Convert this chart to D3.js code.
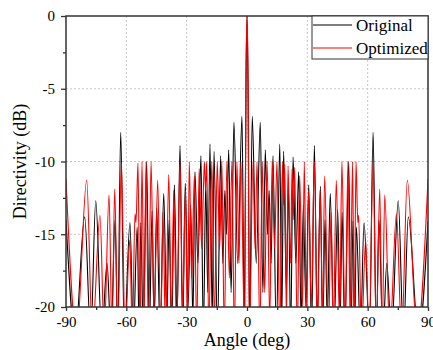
<!DOCTYPE html>
<html>
<head>
<meta charset="utf-8">
<script src="https://cdn.jsdelivr.net/npm/d3@7"></script>
<style>
  body { margin: 0; background: #fff; }
  svg text { font-family: "Liberation Serif", serif !important; fill: #000; }
</style>
</head>
<body>
<div id="container"></div>
<script>
/* DATA (lobe peaks and nulls, dB) */
const origAngle = [-90, -85.4, -80.7, -77.7, -75.2, -72.2, -69.6, -67.6, -65.6, -64.3, -62.8, -61.0, -58.2, -56.5, -54.6, -53.6, -52.8, -51.6, -49.9, -48.6, -47.2, -46.2, -44.9, -43.2, -41.4, -39.9, -38.7, -37.5, -36.1, -34.8, -33.3, -32.0, -30.7, -29.3, -28.0, -26.9, -25.9, -24.4, -22.9, -21.7, -20.5, -19.5, -18.4, -17.3, -16.4, -14.7, -13.1, -12.0, -11.0, -10.2, -9.1, -7.9, -6.5, -4.6, -2.5, -1.3, -0.5, 0,
  0.5, 1.3, 2.6, 4.6, 6.6, 7.9, 9.1, 10.2, 11.0, 12.0, 12.9, 14.6, 16.3, 17.3, 18.2, 19.6, 20.6, 21.7, 22.9, 24.3, 25.7, 26.9, 28.0, 29.3, 30.7, 32.1, 33.5, 34.9, 36.5, 37.6, 38.8, 39.9, 41.4, 43.2, 45.1, 46.3, 47.3, 48.6, 50.6, 51.7, 52.7, 53.5, 54.4, 56.4, 58.2, 60.9, 62.7, 64.3, 65.6, 67.6, 69.5, 71.8, 75.2, 77.8, 80.2, 85.3, 90];
const origDb = [-14.0, -22, -13.8, -22, -12.7, -22, -17, -22, -14.0, -22, -8.0, -22, -14.2, -22, -14.5, -22, -14.2, -22, -10.0, -22, -13.4, -21, -13.2, -22, -12.2, -21, -14, -22, -11.6, -21, -8.9, -22, -11.5, -20, -13, -21, -10.7, -17, -9.6, -22, -11.5, -19, -8.8, -21, -9.3, -22, -9.6, -17, -12, -15, -9.2, -19, -7.3, -17, -6.9, -22, -4.5, 0,
  -4.5, -22, -6.9, -17, -7.3, -19, -9.2, -15, -12, -17, -9.6, -22, -8.8, -21, -9.3, -19, -11.5, -22, -9.7, -17, -10.7, -21, -13, -20, -11.6, -22, -8.9, -21, -11.7, -22, -14, -21, -12.2, -22, -13.3, -21, -13.5, -22, -10.0, -22, -14.1, -22, -14.5, -22, -14.2, -22, -8.0, -22, -14.0, -22, -17, -22, -12.7, -22, -13.8, -22, -14.1];

const optAngle = [-90, -84.7, -79.7, -76.9, -73.1, -71.0, -68.6, -67.1, -65.8, -64.2, -62.5, -60.6, -58.3, -57.0, -55.7, -55.2, -54.2, -53.2, -52.2, -51.2, -50.2, -49.0, -47.7, -46.2, -44.4, -42.9, -41.8, -40.5, -38.9, -37.6, -36.4, -35.0, -33.3, -32.0, -30.6, -29.6, -28.7, -27.5, -26.2, -25.0, -23.8, -22.5, -21.2, -20.6, -20.0, -19.0, -17.5, -16.2, -14.8, -13.6, -12.5, -11.3, -10.0, -8.8, -7.5, -6.3, -5.0, -4.0, -3.0, -1.2, -0.5, 0,
  0.5, 1.2, 3.0, 4.0, 5.0, 6.4, 7.6, 8.8, 10.0, 11.3, 12.5, 13.7, 14.9, 16.3, 17.6, 18.2, 18.8, 19.6, 20.4, 21.6, 22.4, 23.0, 23.7, 25.0, 26.2, 27.6, 28.5, 29.6, 30.6, 32.0, 33.5, 35.0, 36.4, 37.6, 38.6, 40.5, 41.8, 42.9, 44.4, 46.0, 47.2, 48.8, 50.2, 51.3, 52.5, 53.3, 54.2, 55.1, 55.5, 56.9, 59.0, 60.7, 62.7, 64.3, 66.0, 67.2, 68.5, 71.0, 74.3, 76.9, 79.7, 84.6, 90];
const optDb = [-11.2, -22, -11.3, -22, -13.7, -22, -12.3, -22, -11.9, -22, -10.1, -22, -15.4, -22, -13.6, -14.2, -10.1, -22, -10, -21, -10, -22, -10, -21, -11.3, -22, -13.5, -22, -10.9, -21, -12, -22, -10, -20, -12, -22, -10, -18, -11, -22, -10.5, -16, -10, -12, -10, -22, -10, -21, -10, -16, -10, -22, -10, -18, -10, -22, -10, -17, -10, -22, -4, 0,
  -4, -22, -10, -16, -10, -22, -10, -19, -10, -21, -10, -16, -10, -22, -10, -13, -10.2, -21, -10.3, -17, -10.5, -14, -10.4, -22, -11, -20, -10, -22, -12, -20, -10, -22, -12, -21, -11, -22, -13.5, -22, -11.3, -21, -10, -22, -10, -21, -10, -22, -10, -14.2, -13.7, -22, -15.4, -22, -10.1, -22, -11.9, -22, -12.3, -22, -13.6, -22, -11.3, -22, -11.2];

const xTicks = [-90, -60, -30, 0, 30, 60, 90];
const xMinor = [-75, -45, -15, 15, 45, 75];
const yTicks = [0, -5, -10, -15, -20];
const yMinor = [-2.5, -7.5, -12.5, -17.5];
const seriesNames = ["Original", "Optimized"];
const seriesColors = ["#000", "#ff0000"];

/* LAYOUT */
const W = 433, H = 350;
const margin = { top: 16, right: 5, bottom: 43, left: 66 };
const width = W - margin.left - margin.right;
const height = H - margin.top - margin.bottom;
const serif = "Liberation Serif, serif";

const svg = d3.select("#container").append("svg")
  .attr("width", W).attr("height", H);

const g = svg.append("g").attr("transform", `translate(${margin.left},${margin.top})`);

const x = d3.scaleLinear().domain([-90, 90]).range([0, width]);
const y = d3.scaleLinear().domain([-20, 0]).range([height, 0]);

// grid
g.append("g").selectAll("line").data(xTicks.slice(1, -1)).join("line")
  .attr("x1", d => x(d)).attr("x2", d => x(d)).attr("y1", 0).attr("y2", height)
  .attr("stroke", "#c8c8c8").attr("stroke-dasharray", "2,2");
g.append("g").selectAll("line").data(yTicks.slice(1, -1)).join("line")
  .attr("y1", d => y(d)).attr("y2", d => y(d)).attr("x1", 0).attr("x2", width)
  .attr("stroke", "#c8c8c8").attr("stroke-dasharray", "2,2");

// clip
svg.append("defs").append("clipPath").attr("id", "clip")
  .append("rect").attr("width", width).attr("height", height);

const line = d3.line()
  .x(d => x(d[0])).y(d => y(d[1]))
  .curve(d3.curveMonotoneX);

const series = [d3.zip(origAngle, origDb), d3.zip(optAngle, optDb)];

g.append("g").attr("clip-path", "url(#clip)")
  .selectAll("path").data(series).join("path")
  .attr("d", line)
  .attr("fill", "none")
  .attr("stroke", (d, i) => seriesColors[i])
  .attr("stroke-width", 1.1);

// axes
const xAxis = g.append("g").attr("transform", `translate(0,${height})`)
  .call(d3.axisBottom(x).tickValues(xTicks).tickSize(4).tickPadding(5));
g.append("g").attr("transform", `translate(0,${height})`)
  .call(d3.axisBottom(x).tickValues(xMinor).tickSize(3).tickFormat(""));
const yAxis = g.append("g")
  .call(d3.axisLeft(y).tickValues(yTicks).tickSize(5).tickPadding(6));
g.append("g")
  .call(d3.axisLeft(y).tickValues(yMinor).tickSize(3).tickFormat(""));

g.selectAll(".domain").remove();
g.selectAll(".tick line").attr("stroke", "#333").attr("stroke-width", 1.3);
g.selectAll("g").attr("font-family", serif).attr("font-size", 15);
yAxis.selectAll(".tick text").text(d => d === 0 ? "0" : "-" + Math.abs(d));
xAxis.selectAll(".tick text").text(d => d < 0 ? "-" + Math.abs(d) : String(d));
g.selectAll(".tick text").attr("fill", "#000").attr("font-family", serif).attr("font-size", 15);

// frame
g.append("rect").attr("width", width).attr("height", height)
  .attr("fill", "none").attr("stroke", "#333").attr("stroke-width", 1.5);

// legend
const leg = g.append("g").attr("transform", `translate(${width - 116},0)`);
leg.append("rect").attr("width", 116).attr("height", 43)
  .attr("fill", "#fff").attr("stroke", "#333").attr("stroke-width", 1);
seriesNames.forEach((name, i) => {
  const yy = 9 + i * 23;
  leg.append("line").attr("x1", 1).attr("x2", 40).attr("y1", yy).attr("y2", yy)
    .attr("stroke", seriesColors[i]).attr("stroke-width", 1);
  leg.append("text").attr("x", 44).attr("y", yy + 5.5)
    .attr("font-family", serif).attr("font-size", 17).text(name);
});

// axis titles
svg.append("text")
  .attr("x", margin.left + width / 2).attr("y", 346)
  .attr("text-anchor", "middle").attr("font-family", serif).attr("font-size", 18)
  .text("Angle (deg)");
svg.append("text")
  .attr("transform", `translate(26,${margin.top + height / 2}) rotate(-90)`)
  .attr("text-anchor", "middle").attr("font-family", serif).attr("font-size", 18)
  .text("Directivity (dB)");
</script>
</body>
</html>
